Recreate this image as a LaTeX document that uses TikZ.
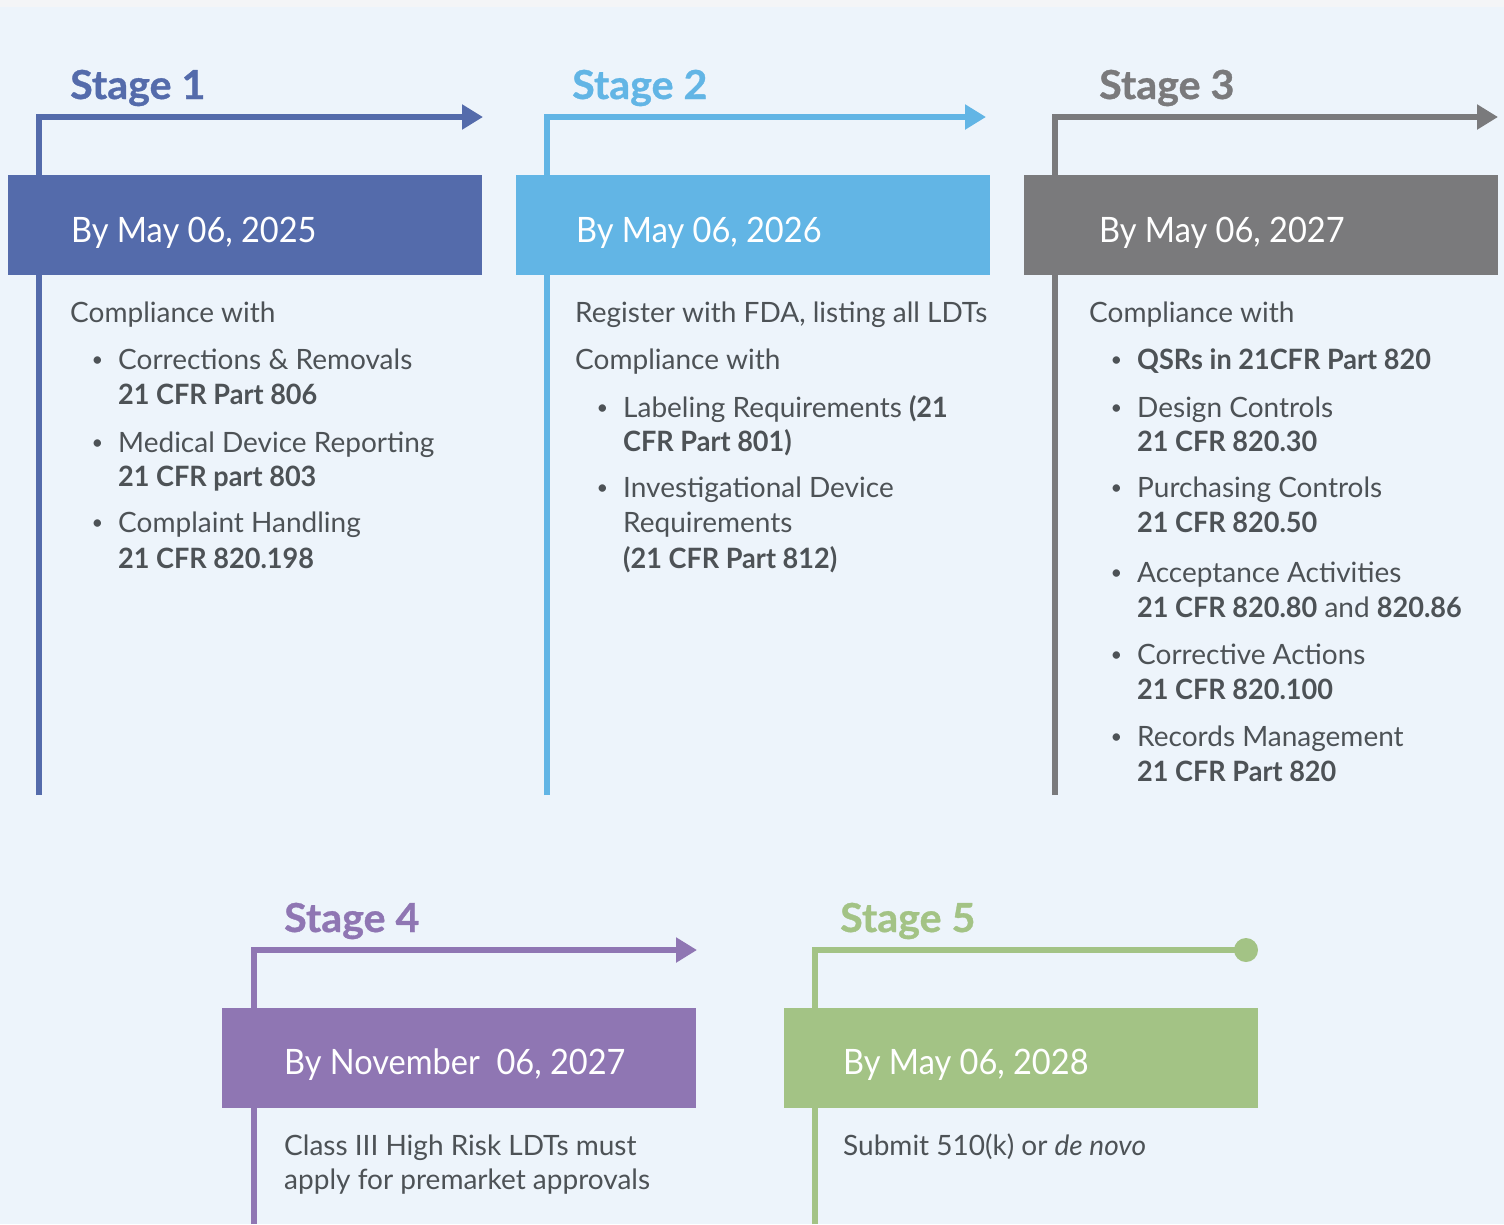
\documentclass[tikz,border=0pt]{standalone}
\usepackage{fontspec}
\setmainfont{Lato}[BoldFeatures={FakeStretch=0.967}]
\newfontfamily\datefont{Lato}[FakeStretch=0.93]
\newfontfamily\stagefont{Lato}[UprightFont=*-Bold, FakeStretch=1.03, FakeBold=0.8]
\usetikzlibrary{arrows.meta}
\definecolor{bg}{HTML}{EDF4FB}
\definecolor{strip}{HTML}{F4F5F7}
\definecolor{c1}{HTML}{546BAB}
\definecolor{c2}{HTML}{62B5E5}
\definecolor{c3}{HTML}{7A7A7C}
\definecolor{c4}{HTML}{8F76B3}
\definecolor{c5}{HTML}{A3C385}
\definecolor{txt}{HTML}{4D5256}
\newcommand\bulitem{\llap{\raisebox{2.5pt}{\fontsize{20}{20}\selectfont\textbullet}\hspace{15pt}}}
\begin{document}
\begin{tikzpicture}[x=1pt,y=-1pt,
 body/.style={anchor=base west, inner sep=0pt, text=txt, font=\fontsize{28}{34}\selectfont},
 datetext/.style={anchor=base west, inner sep=0pt, text=white, font=\datefont\fontsize{35}{40}\selectfont},
 stagelab/.style={anchor=base west, inner sep=0pt, font=\stagefont\fontsize{40}{46}\selectfont},
 datebox/.style={anchor=north west, minimum width=474pt, minimum height=100pt, inner sep=0pt, draw=none},
 tline/.style={line width=6pt, line join=miter},
 tip/.style={-{Triangle[length=21pt,width=24pt]}},
]
\useasboundingbox (0,0) rectangle (1504,1224);
\fill[bg] (0,0) rectangle (1504,1224);
\fill[strip] (0,0) rectangle (1504,7);

% ---------- Stage 1 ----------
\coordinate (s1bot) at (39,795);
\coordinate (s1tip) at (483,117);
\draw[tline,tip,c1] (s1bot) |- (s1tip);
\node[datebox,fill=c1] (box1) at (8,175) {};
\node[stagelab,text=c1] (lab1) at (70,99) {Stage 1};
\node[datetext] (date1) at (71,242) {By May 06, 2025};
\node[body] (t1a) at (70,322) {Compliance with};
\node[body] (t1b) at (118,369) {\bulitem Corrections \& Removals};
\node[body] (t1c) at (118,404) {\textbf{21 CFR Part 806}};
\node[body] (t1d) at (118,452) {\bulitem Medical Device Reporting};
\node[body] (t1e) at (118,486) {\textbf{21 CFR part 803}};
\node[body] (t1f) at (118,532) {\bulitem Complaint Handling};
\node[body] (t1g) at (118,568) {\textbf{21 CFR 820.198}};

% ---------- Stage 2 ----------
\coordinate (s2bot) at (547,795);
\coordinate (s2tip) at (986,117);
\draw[tline,tip,c2] (s2bot) |- (s2tip);
\node[datebox,fill=c2] (box2) at (516,175) {};
\node[stagelab,text=c2] (lab2) at (572,99) {Stage 2};
\node[datetext] (date2) at (576,242) {By May 06, 2026};
\node[body] (t2a) at (575,322) {Register with FDA, listing all LDTs};
\node[body] (t2b) at (575,369) {Compliance with};
\node[body] (t2c) at (623,417) {\bulitem Labeling Requirements \textbf{(21}};
\node[body] (t2d) at (623,451) {\textbf{CFR Part 801)}};
\node[body] (t2e) at (623,497) {\bulitem Investigational Device};
\node[body] (t2f) at (623,532) {Requirements};
\node[body] (t2g) at (623,568) {\textbf{(21 CFR Part 812)}};

% ---------- Stage 3 ----------
\coordinate (s3bot) at (1055,795);
\coordinate (s3tip) at (1498,117);
\draw[tline,tip,c3] (s3bot) |- (s3tip);
\node[datebox,fill=c3] (box3) at (1024,175) {};
\node[stagelab,text=c3] (lab3) at (1099,99) {Stage 3};
\node[datetext] (date3) at (1099,242) {By May 06, 2027};
\node[body] (t3a) at (1089,322) {Compliance with};
\node[body] (t3b) at (1137,369) {\bulitem \textbf{QSRs in 21CFR Part 820}};
\node[body] (t3c) at (1137,417) {\bulitem Design Controls};
\node[body] (t3d) at (1137,451) {\textbf{21 CFR 820.30}};
\node[body] (t3e) at (1137,497) {\bulitem Purchasing Controls};
\node[body] (t3f) at (1137,532) {\textbf{21 CFR 820.50}};
\node[body] (t3g) at (1137,582) {\bulitem Acceptance Activities};
\node[body] (t3h) at (1137,617) {\textbf{21 CFR 820.80} and \textbf{820.86}};
\node[body] (t3i) at (1137,664) {\bulitem Corrective Actions};
\node[body] (t3j) at (1137,699) {\textbf{21 CFR 820.100}};
\node[body] (t3k) at (1137,746) {\bulitem Records Management};
\node[body] (t3l) at (1137,781) {\textbf{21 CFR Part 820}};

% ---------- Stage 4 ----------
\coordinate (s4bot) at (254,1224);
\coordinate (s4tip) at (697,950);
\draw[tline,tip,c4] (s4bot) |- (s4tip);
\node[datebox,fill=c4] (box4) at (222,1008) {};
\node[stagelab,text=c4] (lab4) at (284,932) {Stage 4};
\node[datetext] (date4) at (284,1074) {By November\ \ 06, 2027};
\node[body] (t4a) at (284,1155) {Class III High Risk LDTs must};
\node[body] (t4b) at (284,1189) {apply for premarket approvals};

% ---------- Stage 5 ----------
\node[circle,fill=c5,minimum size=24pt,inner sep=0pt] (dot5) at (1246,950) {};
\coordinate (s5bot) at (815,1224);
\draw[tline,c5] (s5bot) |- (dot5.center);
\node[datebox,fill=c5] (box5) at (784,1008) {};
\node[stagelab,text=c5] (lab5) at (840,932) {Stage 5};
\node[datetext] (date5) at (843,1074) {By May 06, 2028};
\node[body] (t5a) at (843,1155) {Submit 510(k) or \textit{de novo}};
\end{tikzpicture}
\end{document}
